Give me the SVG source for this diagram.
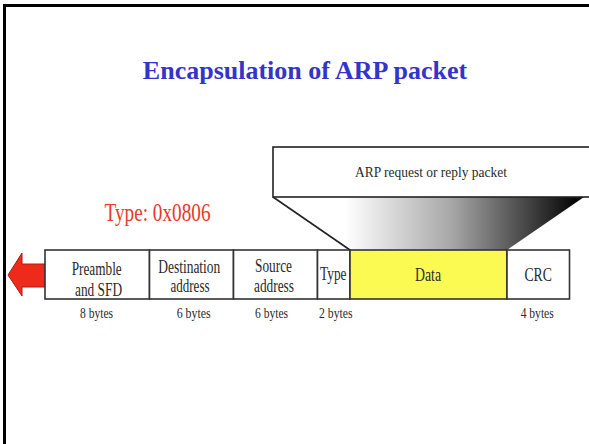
<svg xmlns="http://www.w3.org/2000/svg" width="589" height="444" viewBox="0 0 589 444">
  <defs>
    <style>
      .lbl { font-family: "Liberation Serif", "Times New Roman", serif; fill: #2a2a2a; }
      .cell { fill: #ffffff; stroke: #333333; stroke-width: 1.6; }
      .sz { font-size: 18px; }
      .sm { font-size: 14.5px; }
    </style>
    <linearGradient id="funnelFill" gradientUnits="userSpaceOnUse" x1="345" y1="0" x2="580" y2="0">
      <stop offset="0" stop-color="#ffffff"/>
      <stop offset="0.45" stop-color="#a8a8a8"/>
      <stop offset="1" stop-color="#000000"/>
    </linearGradient>
  </defs>

  <!-- page background and slide border -->
  <rect x="0" y="0" width="589" height="444" fill="#ffffff"/>
  <path d="M4.5 444 V5.5 H589" fill="none" stroke="#000000" stroke-width="3"/>

  <!-- title -->
  <g id="title">
    <text x="305" y="79" text-anchor="middle" font-family="'Liberation Serif', 'Times New Roman', serif" font-weight="bold" font-size="26" fill="#3434c8">Encapsulation of ARP packet</text>
  </g>

  <!-- ethertype label -->
  <g id="type-label">
    <text x="104.5" y="221" font-family="'Liberation Serif', 'Times New Roman', serif" font-size="26" fill="#e33b2c" textLength="106" lengthAdjust="spacingAndGlyphs">Type: 0x0806</text>
  </g>

  <!-- connectors: funnel into the data field and the transmit arrow -->
  <g id="connectors">
    <polygon points="273,197 584,197 507,250 350,250" fill="url(#funnelFill)"/>
    <line x1="273" y1="197" x2="350" y2="250" stroke="#222222" stroke-width="1.6"/>
    <polygon points="8,275 22,253 22,264 45,264 45,287 22,287 22,296" fill="#ee2a1a" stroke="#b01a10" stroke-width="1"/>
  </g>

  <!-- encapsulated ARP packet -->
  <g id="arp-packet">
    <rect x="273" y="147" width="330" height="50" fill="#ffffff" stroke="#222222" stroke-width="1.6"/>
    <text class="lbl" x="355" y="177" font-size="15.5" textLength="152" lengthAdjust="spacingAndGlyphs">ARP request or reply packet</text>
  </g>

  <!-- Ethernet frame fields -->
  <g id="field-preamble">
    <rect class="cell" x="45" y="250" width="104.5" height="49"/>
    <text class="lbl sz" x="71.7" y="275" textLength="50" lengthAdjust="spacingAndGlyphs">Preamble</text>
    <text class="lbl sz" x="75" y="295.5" textLength="47" lengthAdjust="spacingAndGlyphs">and SFD</text>
    <text class="lbl sm" x="80" y="317.5" textLength="33" lengthAdjust="spacingAndGlyphs">8 bytes</text>
  </g>

  <g id="field-destination">
    <rect class="cell" x="149.5" y="250" width="84" height="49"/>
    <text class="lbl sz" x="158.3" y="273.3" textLength="62" lengthAdjust="spacingAndGlyphs">Destination</text>
    <text class="lbl sz" x="170.5" y="291.7" textLength="39" lengthAdjust="spacingAndGlyphs">address</text>
    <text class="lbl sm" x="176.7" y="317.5" textLength="34" lengthAdjust="spacingAndGlyphs">6 bytes</text>
  </g>

  <g id="field-source">
    <rect class="cell" x="233.5" y="250" width="84" height="49"/>
    <text class="lbl sz" x="255" y="271.7" textLength="37" lengthAdjust="spacingAndGlyphs">Source</text>
    <text class="lbl sz" x="254" y="291.7" textLength="40" lengthAdjust="spacingAndGlyphs">address</text>
    <text class="lbl sm" x="255" y="317.5" textLength="33" lengthAdjust="spacingAndGlyphs">6 bytes</text>
  </g>

  <g id="field-type">
    <rect class="cell" x="317.5" y="250" width="32.5" height="49"/>
    <text class="lbl sz" x="320" y="279.5" textLength="26.5" lengthAdjust="spacingAndGlyphs">Type</text>
    <text class="lbl sm" x="319" y="317.5" textLength="33.5" lengthAdjust="spacingAndGlyphs">2 bytes</text>
  </g>

  <g id="field-data">
    <rect x="350" y="250" width="157" height="49" fill="#fbfa52" stroke="#333333" stroke-width="1.6"/>
    <text class="lbl sz" x="415" y="281" textLength="26" lengthAdjust="spacingAndGlyphs">Data</text>
  </g>

  <g id="field-crc">
    <rect class="cell" x="507" y="250" width="62.5" height="49"/>
    <text class="lbl sz" x="524.4" y="281" textLength="27.5" lengthAdjust="spacingAndGlyphs">CRC</text>
    <text class="lbl sm" x="520.7" y="317.5" textLength="33" lengthAdjust="spacingAndGlyphs">4 bytes</text>
  </g>
</svg>
